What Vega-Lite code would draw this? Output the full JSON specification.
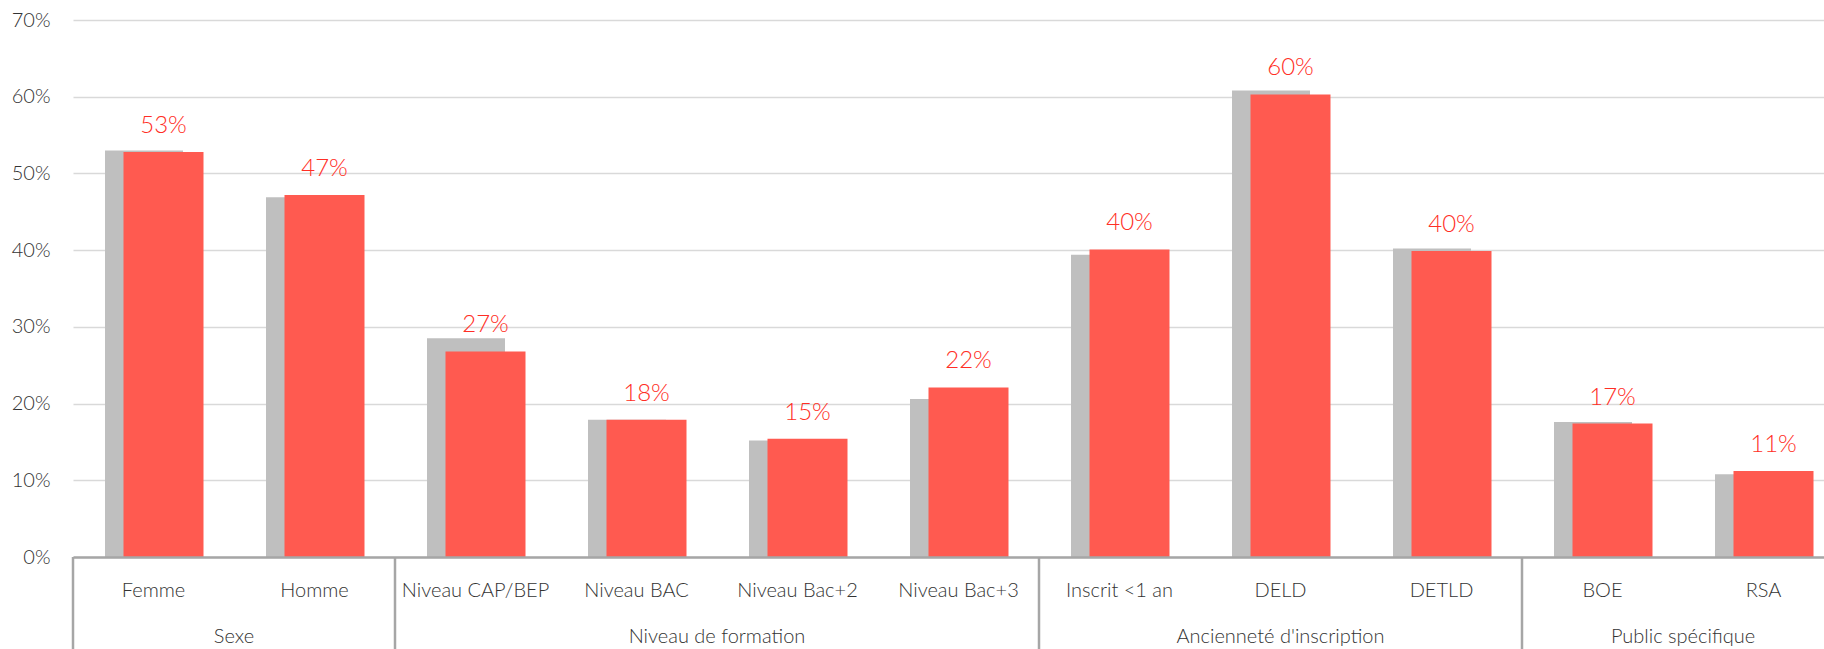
{
  "$schema": "https://vega.github.io/schema/vega-lite/v6.json",
  "width": 1751,
  "height": 537,
  "autosize": {"type": "none"},
  "padding": {"left": 73, "top": 20, "right": 0, "bottom": 92},
  "background": "white",
  "config": {
    "view": {"stroke": null},
    "font": "Lato",
    "text": {"font": "Lato", "fontWeight": 300}
  },
  "data": {
    "values": [
      {"cat": "Femme", "group": "Sexe", "serie": "Référence", "value": 0.530},
      {"cat": "Femme", "group": "Sexe", "serie": "Période", "value": 0.528},
      {"cat": "Homme", "group": "Sexe", "serie": "Référence", "value": 0.469},
      {"cat": "Homme", "group": "Sexe", "serie": "Période", "value": 0.472},
      {"cat": "Niveau CAP/BEP", "group": "Niveau de formation", "serie": "Référence", "value": 0.285},
      {"cat": "Niveau CAP/BEP", "group": "Niveau de formation", "serie": "Période", "value": 0.268},
      {"cat": "Niveau BAC", "group": "Niveau de formation", "serie": "Référence", "value": 0.179},
      {"cat": "Niveau BAC", "group": "Niveau de formation", "serie": "Période", "value": 0.179},
      {"cat": "Niveau Bac+2", "group": "Niveau de formation", "serie": "Référence", "value": 0.152},
      {"cat": "Niveau Bac+2", "group": "Niveau de formation", "serie": "Période", "value": 0.154},
      {"cat": "Niveau Bac+3", "group": "Niveau de formation", "serie": "Référence", "value": 0.206},
      {"cat": "Niveau Bac+3", "group": "Niveau de formation", "serie": "Période", "value": 0.221},
      {"cat": "Inscrit <1 an", "group": "Ancienneté d'inscription", "serie": "Référence", "value": 0.394},
      {"cat": "Inscrit <1 an", "group": "Ancienneté d'inscription", "serie": "Période", "value": 0.401},
      {"cat": "DELD", "group": "Ancienneté d'inscription", "serie": "Référence", "value": 0.608},
      {"cat": "DELD", "group": "Ancienneté d'inscription", "serie": "Période", "value": 0.603},
      {"cat": "DETLD", "group": "Ancienneté d'inscription", "serie": "Référence", "value": 0.402},
      {"cat": "DETLD", "group": "Ancienneté d'inscription", "serie": "Période", "value": 0.399},
      {"cat": "BOE", "group": "Public spécifique", "serie": "Référence", "value": 0.176},
      {"cat": "BOE", "group": "Public spécifique", "serie": "Période", "value": 0.174},
      {"cat": "RSA", "group": "Public spécifique", "serie": "Référence", "value": 0.108},
      {"cat": "RSA", "group": "Public spécifique", "serie": "Période", "value": 0.112}
    ]
  },
  "layer": [
    {
      "transform": [{"filter": "datum.serie == 'Référence'"}],
      "mark": {"type": "bar", "color": "#BFBFBF", "width": 78, "xOffset": -9.5},
      "encoding": {
        "x": {"field": "cat", "type": "nominal", "title": null,
          "scale": {"domain": ["Femme", "Homme", "Niveau CAP/BEP", "Niveau BAC", "Niveau Bac+2", "Niveau Bac+3", "Inscrit <1 an", "DELD", "DETLD", "BOE", "RSA"], "range": [0, 1771], "paddingInner": 0, "paddingOuter": 0},
          "axis": {"title": null, "labelAngle": 0, "ticks": false, "labelPadding": 23, "labelFontSize": 20, "labelFont": "Lato", "labelFontWeight": 300, "labelColor": "#333333", "domainColor": "#A6A6A6", "domainWidth": 2.5, "zindex": 1, "labelLimit": 300}},
        "y": {"field": "value", "type": "quantitative", "title": null,
          "scale": {"domain": [0, 0.7]},
          "axis": {"title": null, "format": ".0%", "values": [0, 0.1, 0.2, 0.3, 0.4, 0.5, 0.6, 0.7], "domain": false, "ticks": false, "labelPadding": 23, "labelFontSize": 20, "labelFont": "Lato", "labelFontWeight": 300, "labelColor": "#333333", "gridColor": "#D9D9D9", "gridWidth": 1.5}}
      }
    },
    {
      "transform": [{"filter": "datum.serie == 'Période'"}],
      "mark": {"type": "bar", "color": "#FF5A50", "width": 80, "xOffset": 10},
      "encoding": {
        "x": {"field": "cat", "type": "nominal", "title": null},
        "y": {"field": "value", "type": "quantitative", "title": null}
      }
    },
    {
      "transform": [{"filter": "datum.serie == 'Période'"}],
      "mark": {"type": "text", "color": "#FF2E25", "fontSize": 24, "fontWeight": 300, "baseline": "middle", "dy": -26, "xOffset": 10},
      "encoding": {
        "x": {"field": "cat", "type": "nominal", "title": null},
        "y": {"field": "value", "type": "quantitative", "title": null},
        "text": {"field": "value", "type": "quantitative", "format": ".0%"}
      }
    },
    {
      "transform": [{"filter": "datum.serie == 'Période' && indexof(['Femme', 'Niveau CAP/BEP', 'Inscrit <1 an', 'BOE'], datum.cat) >= 0"}],
      "mark": {"type": "rule", "color": "#A6A6A6", "strokeWidth": 2.5},
      "encoding": {
        "x": {"field": "cat", "type": "nominal", "title": null, "bandPosition": 0},
        "y": {"datum": 0, "type": "quantitative", "title": null},
        "y2": {"datum": -0.13}
      }
    },
    {
      "transform": [{"filter": "datum.serie == 'Période' && indexof(['Femme', 'Niveau BAC', 'BOE'], datum.cat) >= 0"}],
      "mark": {"type": "text", "color": "#333333", "fontSize": 20, "fontWeight": 300, "baseline": "middle"},
      "encoding": {
        "x": {"field": "cat", "type": "nominal", "title": null, "bandPosition": 1},
        "y": {"datum": -0.1043, "type": "quantitative", "title": null},
        "text": {"field": "group"}
      }
    },
    {
      "transform": [{"filter": "datum.serie == 'Période' && datum.cat == 'DELD'"}],
      "mark": {"type": "text", "color": "#333333", "fontSize": 20, "fontWeight": 300, "baseline": "middle"},
      "encoding": {
        "x": {"field": "cat", "type": "nominal", "title": null, "bandPosition": 0.5},
        "y": {"datum": -0.1043, "type": "quantitative", "title": null},
        "text": {"field": "group"}
      }
    }
  ]
}
